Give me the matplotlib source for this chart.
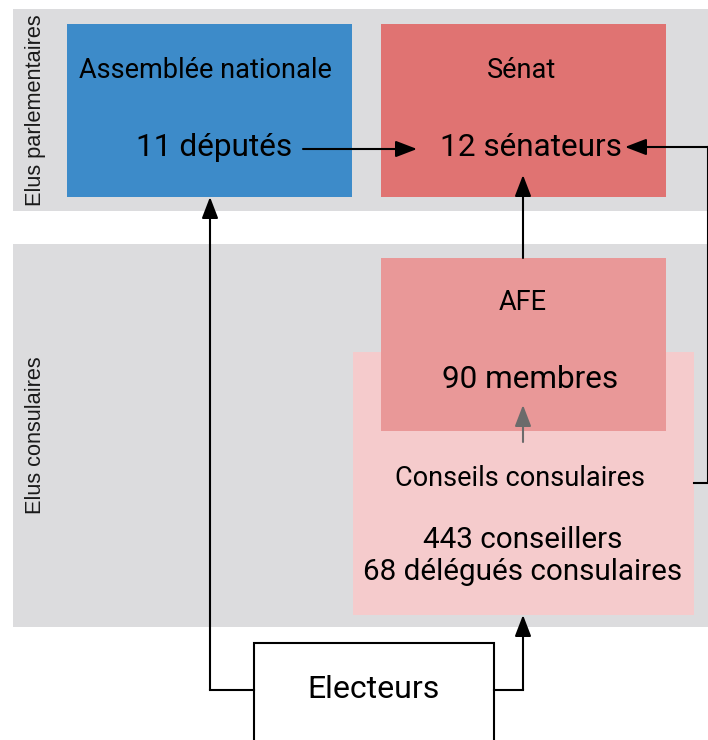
import matplotlib
matplotlib.use("Agg")
import matplotlib.pyplot as plt
from matplotlib.patches import Rectangle

# labels of the diagram
groups = ["Elus parlementaires", "Elus consulaires"]
bodies = ["Assemblée nationale", "Sénat", "AFE", "Conseils consulaires"]
counts = ["11 députés", "12 sénateurs", "90 membres", "443 conseillers\n68 délégués consulaires"]
voters = "Electeurs"

W, H = 708, 740
fig = plt.figure(figsize=(W / 100, H / 100), dpi=100)
ax = fig.add_axes([0, 0, 1, 1])
ax.set_xlim(0, W)
ax.set_ylim(H, 0)
ax.axis("off")

FONT = "Roboto"
SIDE = "Liberation Sans"

def box(x0, y0, x1, y1, fc, ec="none", lw=0, z=1):
    ax.add_patch(Rectangle((x0, y0), x1 - x0, y1 - y0, facecolor=fc, edgecolor=ec, linewidth=lw, zorder=z))

def arrow(pts, color="black", lw=1.5):
    xs = [p[0] for p in pts[:-1]]
    ys = [p[1] for p in pts[:-1]]
    if len(pts) > 2:
        ax.plot(xs, ys, color=color, lw=lw, solid_joinstyle="miter", zorder=5)
    ax.annotate("", xy=pts[-1], xytext=pts[-2],
                arrowprops=dict(arrowstyle="-|>,head_length=0.65,head_width=0.25",
                                color=color, lw=lw, mutation_scale=20,
                                shrinkA=0, shrinkB=0), zorder=6)

# gray bands
box(13, 9, W, 211, "#dcdcde", z=0)
box(13, 244, W, 627, "#dcdcde", z=0)

# boxes
box(67, 24, 352, 197, "#3d8bc9")
box(381, 24, 666, 197, "#e07372")
box(353, 352, 694, 615, "#f5cbcc", z=1)
box(381, 258, 666, 431, "#e99898", z=2)
box(254, 643, 494, 760, "white", ec="black", lw=1.5, z=3)

# side labels
ax.text(36, 110, groups[0], rotation=90, ha="center", va="center", fontsize=15.7, family=SIDE, color="#1a1a1a")
ax.text(36, 435, groups[1], rotation=90, ha="center", va="center", fontsize=15.7, family=SIDE, color="#1a1a1a")

# body titles
ax.text(205, 70, bodies[0], ha="center", va="center", fontsize=19.5, family=FONT, zorder=7)
ax.text(522, 70, bodies[1], ha="center", va="center", fontsize=19.5, family=FONT, zorder=7)
ax.text(523, 303, bodies[2], ha="center", va="center", fontsize=19.5, family=FONT, zorder=7)
ax.text(520, 479, bodies[3], ha="center", va="center", fontsize=19.5, family=FONT, zorder=7)

# counts
ax.text(214, 147, counts[0], ha="center", va="center", fontsize=22.7, family=FONT, zorder=7)
ax.text(531, 147, counts[1], ha="center", va="center", fontsize=22.7, family=FONT, zorder=7)
ax.text(530, 379, counts[2], ha="center", va="center", fontsize=22.7, family=FONT, zorder=7)
ax.text(523, 556, counts[3], ha="center", va="center", fontsize=21.3, family=FONT,
        linespacing=1.2, zorder=7)
ax.text(374, 690, voters, ha="center", va="center", fontsize=23, family=FONT, zorder=7)

# arrows
arrow([(303, 149), (417, 149)])
arrow([(254, 690), (210, 690), (210, 197)])
arrow([(494, 690), (523, 690), (523, 615)])
arrow([(694, 483), (708, 483), (708, 147), (625, 147)])
arrow([(523, 258), (523, 175)])
arrow([(523, 442), (523, 405)], color="#6b6b6b")

fig.savefig("out.png", dpi=100)
